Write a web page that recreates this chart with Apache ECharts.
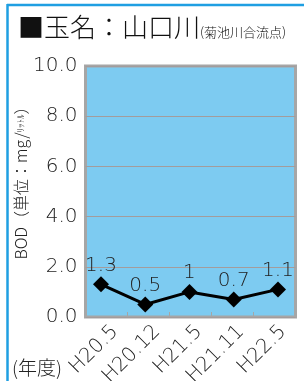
<!DOCTYPE html>
<html>
<head>
<meta charset="utf-8">
<script src="https://cdn.jsdelivr.net/npm/echarts@6/dist/echarts.min.js"></script>
<style>
html,body{margin:0;padding:0;background:#fff;}
#c{width:304px;height:381px;}
</style>
</head>
<body>
<div id="c"></div>
<script>
var categories = ['H20.5', 'H20.12', 'H21.5', 'H21.11', 'H22.5'];
var bodValues = [1.3, 0.5, 1, 0.7, 1.1];
var yTicks = [0, 2, 4, 6, 8, 10];

var FONT = '"Noto Sans CJK JP", "Noto Sans", sans-serif';
var NUMFONT = '"DejaVu Sans", "Noto Sans", sans-serif';
var chart = echarts.init(document.getElementById('c'), null, {renderer: 'canvas'});

var pointData = bodValues.map(function (v, i) { return [i, v]; });

chart.setOption({
  animation: false,
  backgroundColor: '#ffffff',
  title: {
    left: 13, top: 9,
    text: '{a|■玉名：山口川}{b|(菊池川合流点)}',
    textStyle: {
      rich: {
        a: {fontSize: 26, fontFamily: FONT, fontWeight: 300, color: '#111', verticalAlign: 'bottom'},
        b: {fontSize: 13, fontFamily: FONT, fontWeight: 300, color: '#111', verticalAlign: 'bottom', padding: [0, 0, 1, 0]}
      }
    }
  },
  grid: {
    left: 85.5, top: 66, width: 210, height: 251,
    show: true, backgroundColor: '#7dcbf1', borderColor: '#a6a6a6', borderWidth: 3,
    containLabel: false,
    outerBoundsMode: 'none'
  },
  xAxis: [{
    type: 'category',
    data: categories,
    boundaryGap: true,
    axisLine: {show: false},
    axisTick: {show: true, inside: true, length: 5, interval: 0, lineStyle: {color: '#a6a6a6', width: 1}},
    axisLabel: {rotate: 45, margin: 20, interval: 0, padding: [0, -12, 0, 0], fontSize: 20, fontFamily: NUMFONT, fontWeight: 200, color: '#222'},
    splitLine: {show: false}
  }, {
    type: 'value',
    min: -0.35, max: 4.396,
    show: false
  }],
  yAxis: {
    type: 'value',
    min: yTicks[0], max: yTicks[yTicks.length - 1], interval: 2,
    axisLine: {show: false},
    axisTick: {show: false},
    axisLabel: {
      margin: 8, fontSize: 20, fontFamily: NUMFONT, fontWeight: 200, color: '#222',
      formatter: function (v) { return v.toFixed(1); }
    },
    splitLine: {show: true, lineStyle: {color: '#a39c9c', width: 1}}
  },
  graphic: [
    {type: 'line', shape: {x1: 7, y1: 5, x2: 304, y2: 5}, style: {stroke: '#1f9fe2', lineWidth: 2.5}, z: 100},
    {type: 'line', shape: {x1: 7.5, y1: 4, x2: 7.5, y2: 381}, style: {stroke: '#1f9fe2', lineWidth: 2.5}, z: 100},
    {type: 'text', x: 21, y: 179, rotation: Math.PI / 2,
      style: {
        text: '{n|BOD（単位：mg/}{s|ﾘｯﾄﾙ}{n|）}',
        align: 'center', verticalAlign: 'middle',
        rich: {
          n: {fontSize: 16, fontFamily: FONT, fontWeight: 300, fill: '#222'},
          s: {fontSize: 9, fontFamily: FONT, fontWeight: 300, fill: '#222'}
        }
      }
    },
    {type: 'text', x: 12, y: 368,
      style: {text: '(年度)', fontSize: 19, fontFamily: FONT, fontWeight: 300, fill: '#222', align: 'left', verticalAlign: 'middle'}
    }
  ],
  series: [{
    type: 'line',
    xAxisIndex: 1,
    data: pointData,
    symbol: 'diamond',
    symbolSize: 16,
    itemStyle: {color: '#000'},
    lineStyle: {color: '#000', width: 3},
    label: {
      show: true, position: 'top', distance: 1,
      fontSize: 20, fontFamily: NUMFONT, fontWeight: 200, color: '#222',
      formatter: function (p) { return String(p.value[1]); }
    }
  }]
});
</script>
</body>
</html>
